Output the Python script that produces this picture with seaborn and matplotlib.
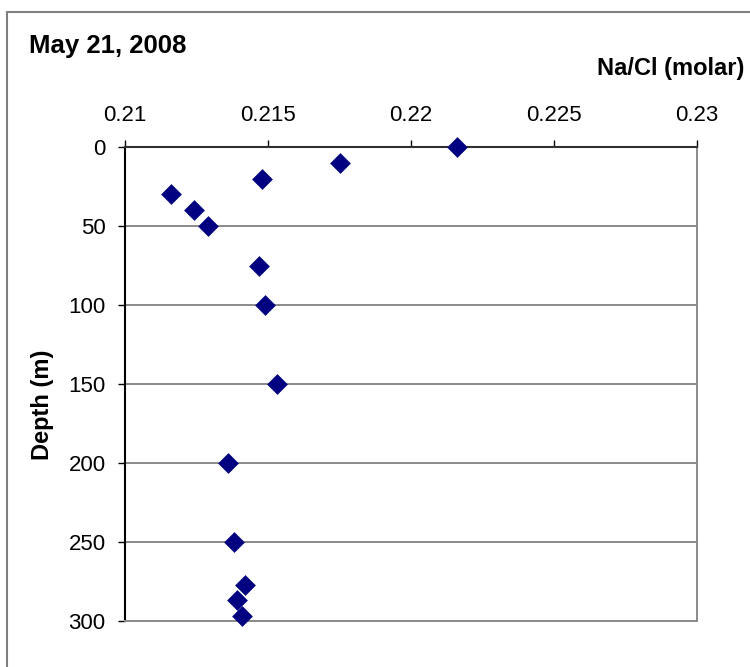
import matplotlib
matplotlib.use("Agg")
import matplotlib.pyplot as plt
from matplotlib.patches import Rectangle
import seaborn as sns
import pandas as pd

# Data
na_cl = [0.2216, 0.2175, 0.2148, 0.2116, 0.2124, 0.2129, 0.2147,
         0.2149, 0.2153, 0.2136, 0.2138, 0.2142, 0.2139, 0.2141]
depth = [0, 10, 20, 30, 40, 50, 75, 100, 150, 200, 250, 277, 287, 297]
x_ticks = [0.21, 0.215, 0.22, 0.225, 0.23]
x_tick_labels = ["0.21", "0.215", "0.22", "0.225", "0.23"]
y_ticks = [0, 50, 100, 150, 200, 250, 300]
title = "May 21, 2008"
x_label = "Na/Cl (molar)"
y_label = "Depth (m)"

df = pd.DataFrame({"NaCl": na_cl, "Depth": depth})

sns.set_style("white")
plt.rcParams["font.family"] = ["Liberation Sans", "DejaVu Sans"]
plt.rcParams["text.color"] = "black"
plt.rcParams["xtick.color"] = "black"
plt.rcParams["ytick.color"] = "black"
plt.rcParams["axes.labelcolor"] = "black"

W, H = 750, 667
fig = plt.figure(figsize=(W / 100, H / 100), dpi=100)
ax = fig.add_axes([125 / W, 1 - 621 / H, (697 - 125) / W, (621 - 147) / H])

# horizontal gridlines
for yv in y_ticks[1:]:
    ax.axhline(yv, color="#8a8a8a", lw=1.4, zorder=1)

sns.scatterplot(data=df, x="NaCl", y="Depth", marker="D", s=112,
                color="#000080", edgecolor="#000080", linewidth=0,
                ax=ax, zorder=3, clip_on=False)

ax.set_xlim(0.21, 0.23)
ax.set_ylim(300, 0)
ax.set_xticks(x_ticks)
ax.set_xticklabels(x_tick_labels)
ax.set_yticks(y_ticks)
ax.xaxis.tick_top()
ax.set_xlabel("")
ax.set_ylabel("")

ax.tick_params(axis="x", which="both", top=True, bottom=False, direction="out",
               length=5, width=1, color="black", labelcolor="black",
               labelsize=16, pad=10)
ax.tick_params(axis="y", which="both", left=True, direction="out",
               length=5, width=1, color="black", labelcolor="black",
               labelsize=16, pad=9)

for side in ["top", "left"]:
    ax.spines[side].set_visible(True)
    ax.spines[side].set_linewidth(1.5)
ax.spines["top"].set_color("#303030")
ax.spines["left"].set_color("black")
ax.spines["right"].set_color("#8a8a8a")
ax.spines["right"].set_linewidth(1.4)
ax.spines["bottom"].set_color("#8a8a8a")
ax.spines["bottom"].set_linewidth(1.4)

# texts
fig.text(29 / W, 1 - 53 / H, title, fontsize=18.5, fontweight="bold",
         ha="left", va="baseline", color="black")
fig.text(744 / W, 1 - 75 / H, x_label, fontsize=17, fontweight="bold",
         ha="right", va="baseline", color="black")
fig.text(42 / W, 1 - 405 / H, y_label, fontsize=17, fontweight="bold",
         ha="center", va="center", rotation=90, color="black")

# outer chart border (extends beyond right and bottom edges)
fig.patches.append(Rectangle((7 / W, -0.05), 1.2, 1 - 12 / H + 0.05,
                             transform=fig.transFigure, fill=False,
                             edgecolor="#808080", lw=1.5))

fig.savefig("out.png", dpi=100)
